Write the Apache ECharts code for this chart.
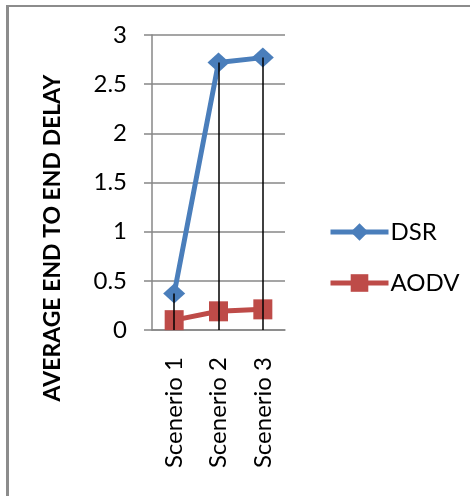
<!DOCTYPE html>
<html>
<head>
<meta charset="utf-8">
<script src="https://cdn.jsdelivr.net/npm/echarts@6/dist/echarts.min.js"></script>
<style>
  html, body { margin: 0; padding: 0; background: #fff; }
  #chart { width: 470px; height: 496px; }
</style>
</head>
<body>
<div id="chart"></div>
<script>
// Scenario labels along the category axis
const categories = ['Scenerio 1', 'Scenerio 2', 'Scenerio 3'];
// Average end-to-end delay per routing protocol
const dsrValues = [0.37, 2.72, 2.77];
const aodvValues = [0.1, 0.19, 0.21];
// Value axis range
const yMin = 0;
const yMax = 3;
const yStep = 0.5;
const yTitle = 'AVERAGE END TO END DELAY';

const FONT = 'Lato, "Open Sans", sans-serif';
const GRID_GRAY = '#878787';

// Drop lines from each DSR point down to the category axis
const dropLines = dsrValues.map((v, i) => [
  { coord: [i, v] },
  { coord: [i, yMin] }
]);

const chart = echarts.init(document.getElementById('chart'), null, { renderer: 'canvas' });

chart.setOption({
  animation: false,
  backgroundColor: '#ffffff',
  graphic: [
    // chart-area frame (top and left edges)
    { type: 'line', shape: { x1: 7, y1: 6, x2: 470, y2: 6 }, style: { stroke: '#8c8c8c', lineWidth: 2 }, z: 0 },
    { type: 'line', shape: { x1: 7.5, y1: 5, x2: 7.5, y2: 496 }, style: { stroke: '#8c8c8c', lineWidth: 3 }, z: 0 },
    // value-axis title, rotated to read bottom-to-top
    {
      type: 'text',
      x: 53,
      y: 238,
      rotation: Math.PI / 2,
      style: {
        text: yTitle,
        fontFamily: FONT,
        fontSize: 23,
        fontWeight: 'bold',
        fill: '#000',
        align: 'center',
        verticalAlign: 'middle'
      }
    }
  ],
  grid: { left: 152, right: 185, top: 35, bottom: 166, containLabel: false },
  legend: {
    orient: 'vertical',
    left: 323,
    top: 215,
    itemWidth: 58,
    itemHeight: 22,
    itemGap: 27,
    lineStyle: { width: 5 },
    textStyle: { fontFamily: FONT, fontSize: 24, color: '#000', padding: [0, 0, 0, -3] },
    data: ['DSR', 'AODV']
  },
  xAxis: {
    type: 'category',
    data: categories,
    boundaryGap: true,
    axisLine: { show: true, lineStyle: { color: GRID_GRAY, width: 1.5 } },
    axisTick: { show: false },
    axisLabel: {
      rotate: 90,
      margin: 27,
      fontFamily: FONT,
      fontSize: 24,
      color: '#000'
    },
    splitLine: { show: false }
  },
  yAxis: {
    type: 'value',
    min: yMin,
    max: yMax,
    interval: yStep,
    axisLine: { show: true, lineStyle: { color: GRID_GRAY, width: 1.5 } },
    axisTick: { show: true, length: 8, lineStyle: { color: GRID_GRAY, width: 1.5 } },
    axisLabel: { margin: 25, fontFamily: FONT, fontSize: 24, color: '#000' },
    splitLine: { show: true, lineStyle: { color: GRID_GRAY, width: 1.5 } }
  },
  series: [
    {
      name: 'DSR',
      type: 'line',
      data: dsrValues,
      symbol: 'diamond',
      symbolSize: [22, 20],
      itemStyle: { color: '#4A7EBB' },
      lineStyle: { color: '#4A7EBB', width: 5 },
      z: 3,
      markLine: {
        silent: true,
        symbol: ['none', 'none'],
        label: { show: false },
        lineStyle: { color: '#000', width: 1.5, type: 'solid' },
        z: 10,
        data: dropLines
      }
    },
    {
      name: 'AODV',
      type: 'line',
      data: aodvValues,
      symbol: 'rect',
      symbolSize: [19, 20],
      itemStyle: { color: '#BE4B48' },
      lineStyle: { color: '#BE4B48', width: 5 },
      z: 2
    }
  ]
});
</script>
</body>
</html>
